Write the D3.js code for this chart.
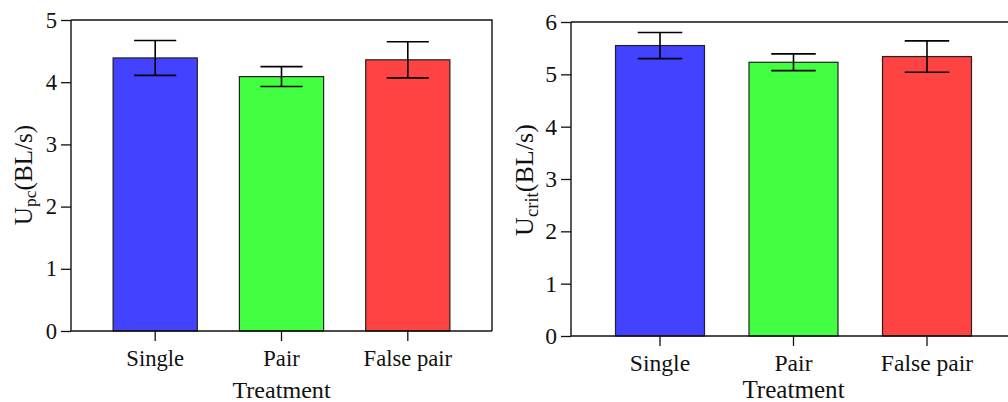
<!DOCTYPE html>
<html>
<head>
<meta charset="utf-8">
<script src="https://cdn.jsdelivr.net/npm/d3@7"></script>
<style>
  body { margin: 0; background: #fff; }
  svg { display: block; }
  text { font-family: "Liberation Serif", "Times New Roman", serif; fill: #111; }
</style>
</head>
<body>
<div id="chart"></div>
<script>
var categories = ["Single", "Pair", "False pair"];
var barColors = ["#4242ff", "#42ff42", "#ff4242"];

// U_pc panel
var upcMean = [4.39, 4.09, 4.36];
var upcErr = [0.28, 0.16, 0.29];
var upcTicks = [0, 1, 2, 3, 4, 5];

// U_crit panel
var ucritMean = [5.55, 5.23, 5.34];
var ucritErr = [0.25, 0.16, 0.30];
var ucritTicks = [0, 1, 2, 3, 4, 5, 6];

var w = 1008;
var h = 402;

var svg = d3
  .select("#chart")
  .append("svg")
  .attr("width", w)
  .attr("height", h);

function drawPanel(opt) {
  var g = svg.append("g");

  var x = d3
    .scaleBand()
    .domain(categories)
    .range([opt.left, opt.right])
    .padding(1 / 3);

  var y = d3
    .scaleLinear()
    .domain([0, d3.max(opt.ticks)])
    .range([opt.bottom, opt.top]);

  var data = categories.map(function (c, i) {
    return { cat: c, mean: opt.mean[i], err: opt.err[i], color: barColors[i] };
  });

  // bars
  g.selectAll(".bar")
    .data(data)
    .enter()
    .append("rect")
    .attr("class", "bar")
    .attr("x", (d) => x(d.cat))
    .attr("y", (d) => y(d.mean))
    .attr("width", x.bandwidth())
    .attr("height", (d) => y(0) - y(d.mean))
    .attr("fill", (d) => d.color)
    .attr("stroke", "#222")
    .attr("stroke-width", 1.2);

  // error bars
  var eb = g.selectAll(".err").data(data).enter().append("g").attr("class", "err");
  var cap = x.bandwidth() / 4;
  var cx = (d) => x(d.cat) + x.bandwidth() / 2;
  eb.append("line")
    .attr("x1", cx)
    .attr("x2", cx)
    .attr("y1", (d) => y(d.mean + d.err))
    .attr("y2", (d) => y(d.mean - d.err));
  eb.append("line")
    .attr("x1", (d) => cx(d) - cap)
    .attr("x2", (d) => cx(d) + cap)
    .attr("y1", (d) => y(d.mean + d.err))
    .attr("y2", (d) => y(d.mean + d.err));
  eb.append("line")
    .attr("x1", (d) => cx(d) - cap)
    .attr("x2", (d) => cx(d) + cap)
    .attr("y1", (d) => y(d.mean - d.err))
    .attr("y2", (d) => y(d.mean - d.err));
  eb.selectAll("line").attr("stroke", "#000").attr("stroke-width", 1.6);

  // frame (top and right)
  g.append("path")
    .attr("d", "M" + opt.left + "," + opt.top + "H" + opt.right + "V" + opt.bottom)
    .attr("fill", "none")
    .attr("stroke", "#111")
    .attr("stroke-width", 1.4);

  // axes (tick text drawn as our own text so it gets the serif font)
  var yAxis = d3.axisLeft(y)
    .tickValues(opt.ticks)
    .tickFormat("")
    .tickSize(10);
  var ya = g.append("g")
    .attr("transform", "translate(" + opt.left + ",0)")
    .call(yAxis);

  var xAxis = d3.axisBottom(x).tickFormat("").tickSize(10);
  var xa = g.append("g")
    .attr("transform", "translate(0," + opt.bottom + ")")
    .call(xAxis);

  [ya, xa].forEach(function (a) {
    a.select(".domain").attr("stroke", "#111").attr("stroke-width", 1.4);
    a.selectAll(".tick line").attr("stroke", "#111").attr("stroke-width", 1.3);
  });
  ya.select(".domain").attr("d", "M0," + opt.top + "V" + opt.bottom);
  xa.select(".domain").attr("d", "M" + opt.left + ",0H" + opt.right);

  g.selectAll(".ylab")
    .data(opt.ticks)
    .enter()
    .append("text")
    .attr("class", "ylab")
    .attr("x", opt.left - 14)
    .attr("y", (d) => y(d))
    .attr("dy", "0.34em")
    .attr("text-anchor", "end")
    .attr("font-size", opt.fs + "px")
    .text((d) => d);

  g.selectAll(".xlab")
    .data(categories)
    .enter()
    .append("text")
    .attr("class", "xlab")
    .attr("x", (d) => x(d) + x.bandwidth() / 2)
    .attr("y", opt.bottom + opt.xLabDy)
    .attr("text-anchor", "middle")
    .attr("font-size", opt.fs + "px")
    .text((d) => d);

  // x title
  g.append("text")
    .attr("x", (opt.left + opt.right) / 2)
    .attr("y", opt.titleY)
    .attr("text-anchor", "middle")
    .attr("font-size", opt.fs + 1.5 + "px")
    .text("Treatment");

  // y title with subscript
  var yt = g.append("text")
    .attr("transform", "translate(" + opt.ylabX + "," + opt.ylabY + ") rotate(-90)")
    .attr("text-anchor", "middle")
    .attr("font-size", opt.fs + 2.5 + "px");
  yt.append("tspan").text("U");
  yt.append("tspan").attr("font-size", opt.fs - 5 + "px").attr("dy", "0.25em").text(opt.sub);
  yt.append("tspan").attr("dy", "-0.17em").text("(BL/s)");
}

drawPanel({
  left: 71, right: 492, top: 20, bottom: 331,
  mean: upcMean, err: upcErr, ticks: upcTicks,
  fs: 22.6, xLabDy: 35, titleY: 398,
  ylabX: 32, ylabY: 175, sub: "pc"
});

drawPanel({
  left: 571, right: 1016, top: 22, bottom: 336,
  mean: ucritMean, err: ucritErr, ticks: ucritTicks,
  fs: 23.6, xLabDy: 35, titleY: 398,
  ylabX: 533, ylabY: 180, sub: "crit"
});
</script>
</body>
</html>
